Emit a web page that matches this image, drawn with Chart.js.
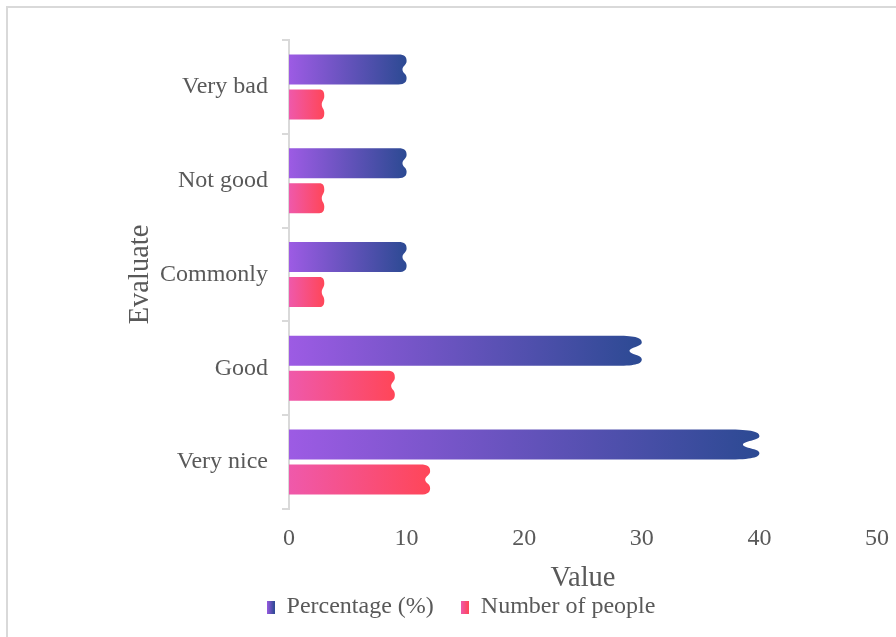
<!DOCTYPE html>
<html>
<head>
<meta charset="utf-8">
<script src="https://cdn.jsdelivr.net/npm/chart.js@4"></script>
<style>
  html, body { margin: 0; padding: 0; background: #fff; overflow: hidden; }
  #frame {
    position: absolute; left: 6px; top: 6px; width: 1000px; height: 1000px;
    border-left: 2px solid #d9d9d9; border-top: 2px solid #d9d9d9;
  }
  #wrap { position: absolute; left: 0; top: 0; width: 896px; height: 637px; }
</style>
</head>
<body>
<div id="frame"></div>
<div id="wrap"><canvas id="chart" width="896" height="637"></canvas></div>
<script>
'use strict';

// ── Data ─────────────────────────────────────────────
const categories = ['Very bad', 'Not good', 'Commonly', 'Good', 'Very nice'];
const percentage = [10, 10, 10, 30, 40];
const people     = [3, 3, 3, 9, 12];
const seriesNames = ['Percentage (%)', 'Number of people'];
const xMin = 0, xMax = 50, xStep = 10;

// ── Look ─────────────────────────────────────────────
const FONT = "'Liberation Serif', 'Times New Roman', serif";
const TEXT = '#595959';
const GRID = '#d9d9d9';
const gradColors = [
  ['#9d5be4', '#2c4a93'],   // percentage
  ['#ef59ab', '#ff4658'],   // number of people
];

// small gradient swatch for the legend
function swatch(cols) {
  const c = document.createElement('canvas');
  c.width = 8; c.height = 13;
  const g = c.getContext('2d');
  const gr = g.createLinearGradient(0, 0, 8, 0);
  gr.addColorStop(0, cols[0]);
  gr.addColorStop(1, cols[1]);
  g.fillStyle = gr;
  g.fillRect(0, 0, 8, 13);
  return c;
}
const swatches = gradColors.map(swatch);

// ── Bars with a wavy end, drawn from the bar elements ──
const wavyBars = {
  id: 'wavyBars',
  afterDatasetsDraw(chart) {
    const ctx = chart.ctx;
    chart.data.datasets.forEach((ds, di) => {
      const meta = chart.getDatasetMeta(di);
      if (meta.hidden) return;
      meta.data.forEach(el => {
        const { x, y, base, height } = el.getProps(['x', 'y', 'base', 'height'], true);
        const t = y - height / 2, b = y + height / 2, h = height;
        const len = x - base;
        const fw = Math.max(5, len * 0.07);
        const gr = ctx.createLinearGradient(base, 0, x, 0);
        gr.addColorStop(0, gradColors[di][0]);
        gr.addColorStop(1, gradColors[di][1]);
        ctx.save();
        ctx.fillStyle = gr;
        ctx.beginPath();
        ctx.moveTo(base, t);
        ctx.lineTo(x - fw, t);
        ctx.bezierCurveTo(x - fw * 0.2, t, x, t + h * 0.08, x, t + h * 0.22);
        ctx.bezierCurveTo(x, t + h * 0.36, x - fw * 0.5, t + h * 0.38, x - fw * 0.5, t + h * 0.5);
        ctx.bezierCurveTo(x - fw * 0.5, b - h * 0.38, x, b - h * 0.36, x, b - h * 0.22);
        ctx.bezierCurveTo(x, b - h * 0.08, x - fw * 0.2, b, x - fw, b);
        ctx.lineTo(base, b);
        ctx.closePath();
        ctx.fill();
        ctx.restore();
      });
    });
  }
};

new Chart(document.getElementById('chart'), {
  type: 'bar',
  data: {
    labels: categories,
    datasets: [
      { label: seriesNames[0], data: percentage },
      { label: seriesNames[1], data: people },
    ].map(d => Object.assign(d, {
      backgroundColor: 'rgba(0,0,0,0)',
      borderWidth: 0,
      categoryPercentage: 0.746,
      barPercentage: 0.857,
    })),
  },
  options: {
    indexAxis: 'y',
    responsive: false,
    animation: false,
    layout: { padding: { top: 40, right: 16, left: 42, bottom: 8 } },
    plugins: {
      tooltip: { enabled: false },
      legend: {
        position: 'bottom',
        labels: {
          usePointStyle: true,
          boxWidth: 8,
          boxHeight: 13,
          padding: 27,
          color: TEXT,
          font: { family: FONT, size: 24 },
          generateLabels: chart => {
            const items = Chart.defaults.plugins.legend.labels.generateLabels(chart);
            items.forEach((it, i) => { it.pointStyle = swatches[i]; });
            return items;
          },
        },
      },
    },
    scales: {
      x: {
        min: xMin, max: xMax,
        grid: { display: false },
        border: { display: false },
        ticks: { stepSize: xStep, color: TEXT, font: { family: FONT, size: 24 }, padding: 7 },
        title: { display: true, text: 'Value', color: TEXT, font: { family: FONT, size: 28.5 },
                 padding: { top: 0, bottom: -28 } },
        afterFit: s => { s.height = 59; },
      },
      y: {
        grid: { display: true, drawOnChartArea: false, drawTicks: true, tickLength: 7,
                color: GRID, lineWidth: 2, offset: true },
        border: { display: true, color: GRID, width: 2 },
        ticks: { color: TEXT, font: { family: FONT, size: 24 }, padding: 14 },
        title: { display: true, text: 'Evaluate', color: TEXT, font: { family: FONT, size: 28.5 },
                 padding: { top: 81, bottom: 0 } },
        afterFit: s => { s.width = 247; },
      },
    },
  },
  plugins: [wavyBars],
});
</script>
</body>
</html>
